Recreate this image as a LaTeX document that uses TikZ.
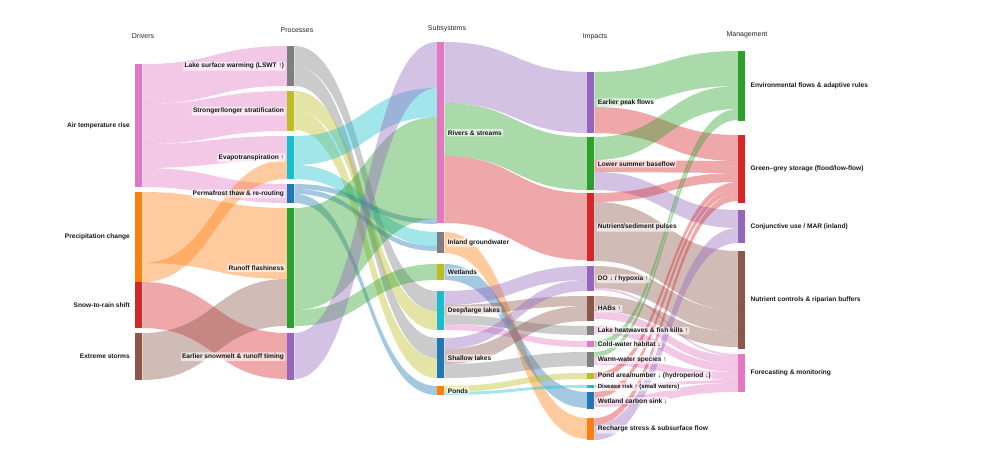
\documentclass[tikz,border=0pt]{standalone}
\usepackage{fontspec}
\setmainfont{Liberation Sans}
\usetikzlibrary{positioning, backgrounds}

\definecolor{sblue}{HTML}{1F77B4}
\definecolor{sorange}{HTML}{FF7F0E}
\definecolor{sgreen}{HTML}{2CA02C}
\definecolor{sred}{HTML}{D62728}
\definecolor{spurple}{HTML}{9467BD}
\definecolor{sbrown}{HTML}{8C564B}
\definecolor{spink}{HTML}{E377C2}
\definecolor{sgray}{HTML}{7F7F7F}
\definecolor{solive}{HTML}{BCBD22}
\definecolor{scyan}{HTML}{17BECF}

% bar of the sankey: name, x, top, height, colour
\newcommand{\sknode}[5]{\node[sbar, fill=#5, minimum height=#4pt] (#1) at (#2,#3) {};}
% ribbon: source, offset, target, offset, width, colour
\newcommand{\flow}[6]{%
  \fill[#6, fill opacity=.4] ([yshift=-#2pt]#1.north east) .. controls +(72,0) and +(-72,0) .. ([yshift=-#4pt]#3.north west)
    -- ([yshift={-(#4+#5)*1pt}]#3.north west) .. controls +(-72,0) and +(72,0) .. ([yshift={-(#2+#5)*1pt}]#1.north east) -- cycle;}

\begin{document}
\begin{tikzpicture}[x=1pt, y=-1pt,
    sbar/.style={rectangle, inner sep=0pt, minimum width=7pt, anchor=north west},
    title/.style={font=\fontsize{7}{8}\selectfont, text=black!85},
    lbl/.style={font=\fontsize{6.6}{8}\selectfont\bfseries, inner sep=1pt, text=black!90},
    boxlbl/.style={lbl, fill=white, fill opacity=.6, text opacity=1, rounded corners=1pt, inner sep=1.3pt}
  ]
  \useasboundingbox (0,0) rectangle (1000,450);

  % --- column titles
  \node[title] (tdrv) at (143,36) {Drivers};
  \node[title] (tproc) at (297,30) {Processes};
  \node[title] (tsub) at (447,29) {Subsystems};
  \node[title] (timp) at (595,37) {Impacts};
  \node[title] (tman) at (747,35) {Management};

  % --- drivers
  \sknode{air}{135}{64}{123}{spink}
  \sknode{prec}{135}{192}{90}{sorange}
  \sknode{snow}{135}{282}{46}{sred}
  \sknode{storm}{135}{333}{47}{sbrown}

  % --- processes
  \sknode{lswt}{287}{46}{40}{sgray}
  \sknode{strat}{287}{91}{40}{solive}
  \sknode{evap}{287}{136}{43}{scyan}
  \sknode{perma}{287}{184}{19}{sblue}
  \sknode{runoff}{287}{208}{120}{sgreen}
  \sknode{melt}{287}{333}{47}{spurple}

  % --- subsystems
  \sknode{river}{437}{42}{181}{spink}
  \sknode{gw}{437}{232}{21}{sgray}
  \sknode{wet}{437}{264}{16}{solive}
  \sknode{deep}{437}{291}{39}{scyan}
  \sknode{shallow}{437}{338}{40}{sblue}
  \sknode{ponds}{437}{386}{9}{sorange}

  % --- impacts
  \sknode{peak}{587}{72}{61}{spurple}
  \sknode{base}{587}{137}{53}{sgreen}
  \sknode{nutr}{587}{193}{68}{sred}
  \sknode{hypo}{587}{266}{25}{spurple}
  \sknode{habs}{587}{296}{25}{sbrown}
  \sknode{heat}{587}{326}{9}{sgray}
  \sknode{cold}{587}{341}{6}{spink}
  \sknode{warm}{587}{352}{15}{sgray}
  \sknode{pond}{587}{373}{6}{solive}
  \sknode{dis}{587}{385}{3}{scyan}
  \sknode{carb}{587}{392}{17}{sblue}
  \sknode{rech}{587}{418}{22}{sorange}

  % --- management
  \sknode{eflow}{738}{51}{70}{sgreen}
  \sknode{store}{738}{135}{68}{sred}
  \sknode{conj}{738}{210}{33}{spurple}
  \sknode{ctrl}{738}{251}{98}{sbrown}
  \sknode{fore}{738}{354}{38}{spink}

  \begin{pgfonlayer}{background}
    \fill[white] (0,0) rectangle (1000,450);
    % drivers -> processes
    \flow{air}{0}{lswt}{0}{40}{spink}
    \flow{air}{40}{strat}{0}{40}{spink}
    \flow{air}{80}{evap}{0}{24}{spink}
    \flow{air}{104}{perma}{0}{19}{spink}
    \flow{prec}{0}{runoff}{0}{71}{sorange}
    \flow{prec}{71}{evap}{24}{19}{sorange}
    \flow{snow}{0}{melt}{0}{46}{sred}
    \flow{storm}{0}{runoff}{71}{47}{sbrown}
    % processes -> subsystems
    \flow{lswt}{0}{deep}{0}{20}{sgray}
    \flow{lswt}{20}{shallow}{0}{20}{sgray}
    \flow{strat}{0}{deep}{20}{19}{solive}
    \flow{strat}{19}{shallow}{20}{20}{solive}
    \flow{evap}{0}{river}{46}{29}{scyan}
    \flow{evap}{29}{gw}{0}{14}{scyan}
    \flow{perma}{0}{river}{177}{5}{sblue}
    \flow{perma}{5}{gw}{14}{5}{sblue}
    \flow{perma}{10}{ponds}{0}{9}{sblue}
    \flow{runoff}{0}{river}{75}{102}{sgreen}
    \flow{runoff}{102}{wet}{0}{16}{sgreen}
    \flow{melt}{0}{river}{0}{46}{spurple}
    % subsystems -> impacts
    \flow{river}{0}{peak}{0}{61}{spurple}
    \flow{river}{61}{base}{0}{53}{sgreen}
    \flow{river}{114}{nutr}{0}{67}{sred}
    \flow{gw}{0}{rech}{0}{21}{sorange}
    \flow{wet}{0}{carb}{0}{16}{sblue}
    \flow{deep}{0}{hypo}{0}{14}{spurple}
    \flow{deep}{14}{habs}{0}{10}{sbrown}
    \flow{deep}{24}{heat}{0}{9}{sgray}
    \flow{deep}{33}{cold}{0}{6}{spink}
    \flow{shallow}{0}{hypo}{14}{11}{spurple}
    \flow{shallow}{11}{habs}{10}{15}{sbrown}
    \flow{shallow}{26}{warm}{0}{14}{sgray}
    \flow{ponds}{0}{pond}{0}{6}{solive}
    \flow{ponds}{6}{dis}{0}{3}{scyan}
    % impacts -> management
    \flow{peak}{0}{eflow}{0}{35}{sgreen}
    \flow{peak}{35}{store}{0}{26}{sred}
    \flow{base}{0}{eflow}{35}{23}{sgreen}
    \flow{base}{23}{store}{26}{12}{sred}
    \flow{base}{35}{conj}{0}{18}{spurple}
    \flow{nutr}{0}{store}{38}{9}{sred}
    \flow{nutr}{9}{ctrl}{0}{59}{sbrown}
    \flow{hypo}{0}{ctrl}{59}{22}{sbrown}
    \flow{hypo}{22}{fore}{0}{2}{spink}
    \flow{habs}{0}{ctrl}{81}{15}{sbrown}
    \flow{habs}{15}{fore}{2}{8}{spink}
    \flow{heat}{0}{fore}{10}{8}{spink}
    \flow{cold}{0}{eflow}{58}{6}{sgreen}
    \flow{warm}{0}{eflow}{64}{5}{sgreen}
    \flow{warm}{5}{fore}{18}{8}{spink}
    \flow{pond}{0}{store}{47}{6}{sred}
    \flow{dis}{0}{fore}{26}{3}{spink}
    \flow{carb}{0}{store}{53}{6}{sred}
    \flow{carb}{6}{fore}{29}{9}{spink}
    \flow{rech}{0}{store}{59}{7}{sred}
    \flow{rech}{7}{conj}{18}{15}{spurple}
  \end{pgfonlayer}

  % --- labels
  \node[lbl, left=4pt of air] (airL) {Air temperature rise};
  \node[lbl, left=4pt of prec] (precL) {Precipitation change};
  \node[lbl, left=4pt of snow] (snowL) {Snow-to-rain shift};
  \node[lbl, left=4pt of storm] (stormL) {Extreme storms};

  \node[boxlbl, left=1.5pt of lswt] (lswtL) {Lake surface warming (LSWT ↑)};
  \node[boxlbl, left=1.5pt of strat] (stratL) {Stronger/longer stratification};
  \node[boxlbl, left=1.5pt of evap] (evapL) {Evapotranspiration ↑};
  \node[boxlbl, left=1.5pt of perma] (permaL) {Permafrost thaw \& re-routing};
  \node[boxlbl, left=1.5pt of runoff] (runoffL) {Runoff flashiness};
  \node[boxlbl, left=1.5pt of melt] (meltL) {Earlier snowmelt \& runoff timing};

  \node[boxlbl, right=2pt of river] (riverL) {Rivers \& streams};
  \node[boxlbl, right=2pt of gw] (gwL) {Inland groundwater};
  \node[boxlbl, right=2pt of wet] (wetL) {Wetlands};
  \node[boxlbl, right=2pt of deep] (deepL) {Deep/large lakes};
  \node[boxlbl, right=2pt of shallow] (shallowL) {Shallow lakes};
  \node[boxlbl, right=2pt of ponds] (pondsL) {Ponds};

  \node[boxlbl, right=2pt of peak] (peakL) {Earlier peak flows};
  \node[boxlbl, right=2pt of base] (baseL) {Lower summer baseflow};
  \node[boxlbl, right=2pt of nutr] (nutrL) {Nutrient/sediment pulses};
  \node[boxlbl, right=2pt of hypo] (hypoL) {DO ↓ / hypoxia ↑};
  \node[boxlbl, right=2pt of habs] (habsL) {HABs ↑};
  \node[boxlbl, right=2pt of heat] (heatL) {Lake heatwaves \& fish kills ↑};
  \node[boxlbl, right=2pt of cold] (coldL) {Cold-water habitat ↓};
  \node[boxlbl, right=2pt of warm] (warmL) {Warm-water species ↑};
  \node[boxlbl, right=2pt of pond] (pondL) {Pond area/number ↓ (hydroperiod ↓)};
  \node[boxlbl, right=2pt of dis, font=\fontsize{6}{7}\selectfont\bfseries] (disL) {Disease risk ↑ (small waters)};
  \node[boxlbl, right=2pt of carb] (carbL) {Wetland carbon sink ↓};
  \node[boxlbl, right=2pt of rech] (rechL) {Recharge stress \& subsurface flow};

  \node[lbl, right=4pt of eflow] (eflowL) {Environmental flows \& adaptive rules};
  \node[lbl, right=4pt of store] (storeL) {Green–grey storage (flood/low-flow)};
  \node[lbl, right=4pt of conj] (conjL) {Conjunctive use / MAR (inland)};
  \node[lbl, right=4pt of ctrl] (ctrlL) {Nutrient controls \& riparian buffers};
  \node[lbl, right=4pt of fore] (foreL) {Forecasting \& monitoring};
\end{tikzpicture}
\end{document}
